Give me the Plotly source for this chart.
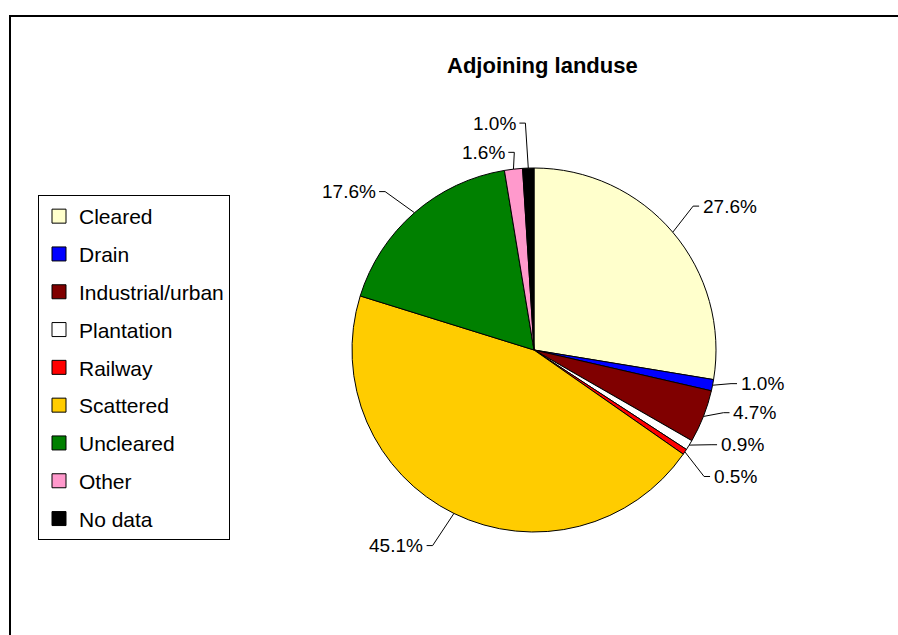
import math
import plotly.graph_objects as go

# ---- data ----
categories = ["Cleared", "Drain", "Industrial/urban", "Plantation", "Railway",
              "Scattered", "Uncleared", "Other", "No data"]
percent_values = [27.6, 1.0, 4.7, 0.9, 0.5, 45.1, 17.6, 1.6, 1.0]
slice_colors = ["#FFFFCC", "#0000FF", "#800000", "#FFFFFF", "#FF0000",
                "#FFCC00", "#008000", "#FF99CC", "#000000"]
title_text = "Adjoining landuse"

# ---- layout (pixels) ----
W, H = 898, 635
CX, CY, R = 534, 350, 182
LABEL_R = 210
# per-label nudges of the leader elbow (px) to avoid crowding
label_nudge = [(-1, -8), (-9, -7), (-6, -14), (-2, -15), (-4, 9),
               (-9, 7), (-11, 0), (4, 11), (-2, -17)]
STUB = 6
FONT = "Liberation Sans, Arial, sans-serif"


def px(x):
    return x / W


def py(y):
    return 1 - y / H


fig = go.Figure()
fig.add_trace(go.Pie(
    labels=categories, values=percent_values, sort=False,
    direction="clockwise", rotation=0,
    marker=dict(colors=slice_colors, line=dict(color="black", width=1)),
    textinfo="none", hoverinfo="label+percent", showlegend=False,
    domain=dict(x=[px(CX - R), px(CX + R)], y=[py(CY + R), py(CY - R)]),
))

# legend entries (dummy traces so row spacing can be controlled)
for i, (name, col) in enumerate(zip(categories, slice_colors)):
    fig.add_trace(go.Scatter(
        x=[None], y=[None], mode="markers", name=name,
        legendgroup=f"g{i}",
        marker=dict(symbol="square", size=14, color=col,
                    line=dict(color="black", width=1)),
    ))

shapes = []
annotations = []
total = sum(percent_values)
cum = 0.0
for i, v in enumerate(percent_values):
    mid = (cum + v / 2) / total * 2 * math.pi
    cum += v
    sx, sy = math.sin(mid), -math.cos(mid)
    ex, ey = CX + R * sx, CY + R * sy
    nx, ny = label_nudge[i]
    bx, by = CX + LABEL_R * sx + nx, CY + LABEL_R * sy + ny
    right = sx > 0
    tx = bx + (STUB if right else -STUB)
    shapes.append(dict(
        type="path", xref="paper", yref="paper",
        path=f"M{px(ex)},{py(ey)} L{px(bx)},{py(by)} L{px(tx)},{py(by)}",
        line=dict(color="black", width=1),
    ))
    annotations.append(dict(
        xref="paper", yref="paper", x=px(tx + (1.5 if right else -1.5)), y=py(by),
        xanchor="left" if right else "right", yanchor="middle",
        text=f"{v:.1f}%", showarrow=False,
        font=dict(family=FONT, size=19, color="black"),
    ))

# outer chart border (runs off the right and bottom edges)
shapes.append(dict(type="rect", xref="paper", yref="paper",
                   x0=px(10), y0=py(H + 40), x1=px(W + 40), y1=py(16),
                   line=dict(color="black", width=2)))

annotations.append(dict(
    xref="paper", yref="paper", x=px(542), y=py(65),
    xanchor="center", yanchor="middle", showarrow=False,
    text=f"<b>{title_text}</b>",
    font=dict(family=FONT, size=22, color="black"),
))

fig.update_layout(
    width=W, height=H,
    margin=dict(l=0, r=0, t=0, b=0),
    paper_bgcolor="white", plot_bgcolor="white",
    xaxis=dict(visible=False), yaxis=dict(visible=False),
    shapes=shapes, annotations=annotations,
    legend=dict(
        x=px(38), y=py(195), xanchor="left", yanchor="top",
        bgcolor="white", bordercolor="black", borderwidth=1,
        font=dict(family=FONT, size=21, color="black"),
        tracegroupgap=7.5, itemclick=False,
    ),
    showlegend=True,
)

fig.write_html(
    "out.html",
    config={"displayModeBar": False},
    post_script="document.body.style.margin='0';"
                "document.body.style.overflow='hidden';",
)
